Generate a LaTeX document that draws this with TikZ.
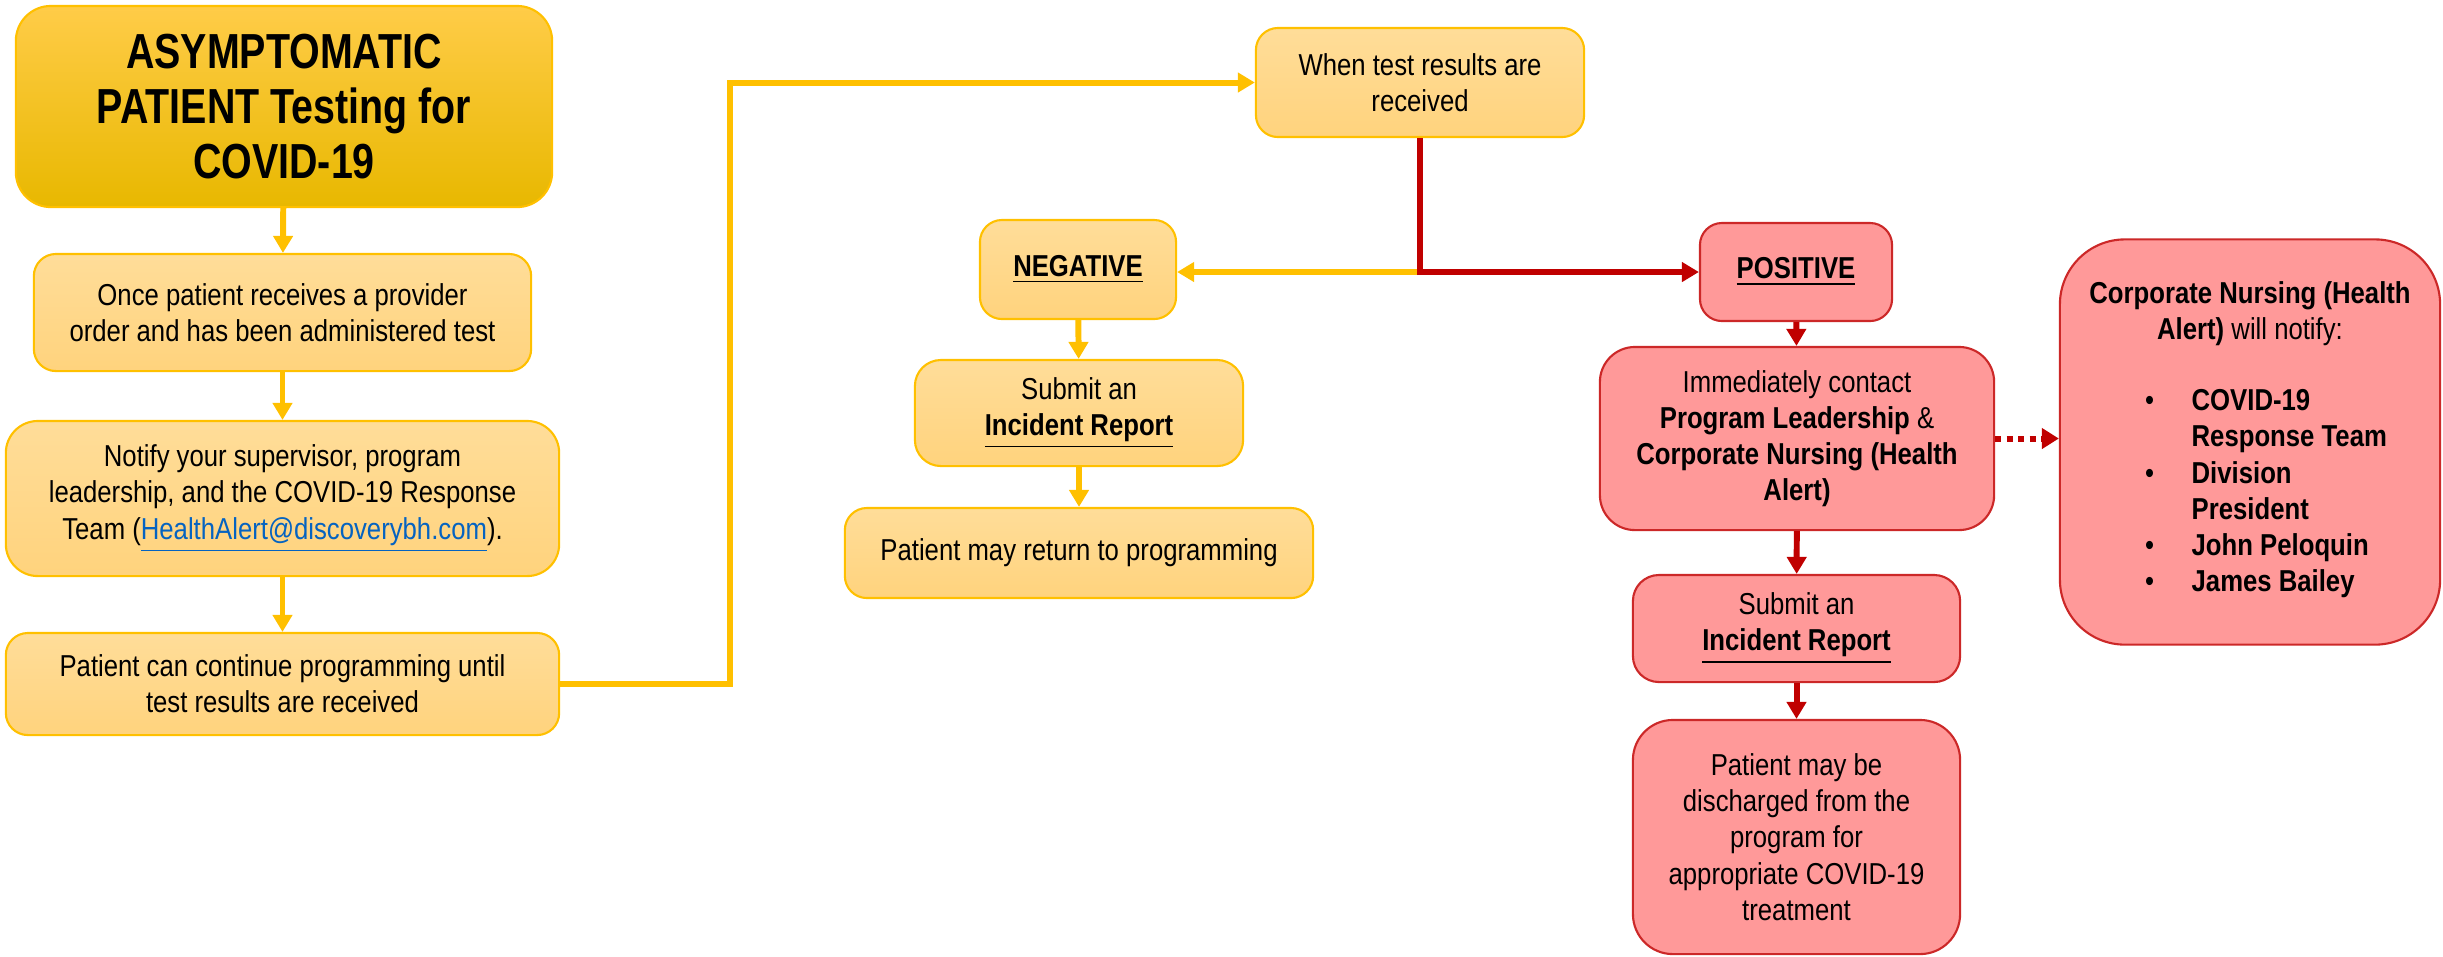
\documentclass[tikz,border=0pt]{standalone}
\usepackage{fontspec}
\setmainfont{Liberation Sans}[FakeStretch=0.85]
\newfontfamily\titlefamily{Liberation Sans}[FakeStretch=0.8]
\usetikzlibrary{positioning}
\usetikzlibrary{arrows.meta}
\definecolor{gold}{RGB}{255,192,0}
\definecolor{ytop}{RGB}{255,221,153}
\definecolor{ybot}{RGB}{255,211,125}
\definecolor{ttop}{RGB}{255,204,72}
\definecolor{tmid}{RGB}{255,192,0}
\definecolor{tbot}{RGB}{232,184,0}
\definecolor{pinkfill}{RGB}{255,153,153}
\definecolor{redline}{RGB}{204,40,40}
\definecolor{darkred}{RGB}{192,0,0}
\definecolor{linkblue}{RGB}{5,99,193}
\newcommand\bodyfont{\fontsize{8.6}{10.3}\selectfont}

\begin{document}
\begin{tikzpicture}[x=0.01cm, y=-0.01cm,
			ybox/.style={rectangle, rounded corners=0.22cm, draw=gold, line width=0.6pt, top color=ytop, bottom color=ybot, align=center, inner sep=0pt, font=\bodyfont},
			rbox/.style={rectangle, rounded corners=0.22cm, draw=redline, line width=0.6pt, fill=pinkfill, align=center, inner sep=0pt, font=\bodyfont},
			titlebox/.style={rectangle, rounded corners=0.35cm, draw=gold, line width=0.6pt, top color=ttop, middle color=tmid, bottom color=tbot, align=center, inner sep=0pt, font=\titlefamily\bfseries\fontsize{14}{15.6}\selectfont},
			yarrow/.style={-{Triangle[width=0.19cm, length=0.17cm]}, draw=gold, line width=1.7pt},
			rarrow/.style={-{Triangle[width=0.19cm, length=0.17cm]}, draw=darkred, line width=1.7pt},
			dotarrow/.style={-{Triangle[width=0.2cm, length=0.17cm]}, draw=darkred, line width=1.7pt, dash pattern=on 0.06cm off 0.055cm}
		]
			\path[use as bounding box, fill=white] (0,0) rectangle (2443,956);

			% Left column
			\node[titlebox, minimum width=5.36cm, minimum height=2.01cm] (title) at (284,106.5) {ASYMPTOMATIC\\PATIENT Testing for\\COVID-19};
			\node[ybox, minimum width=4.97cm, minimum height=1.17cm] (order) at (282.5,312.5) {Once patient receives a provider\\order and has been administered test};
			\node[ybox, rounded corners=0.32cm, minimum width=5.53cm, minimum height=1.55cm] (notify) at (282.5,498.5) {Notify your supervisor, program\\leadership, and the COVID-19 Response\\Team (\textcolor{linkblue}{\underline{HealthAlert@discoverybh.com}}).};
			\node[ybox, minimum width=5.53cm, minimum height=1.02cm] (cont) at (282.5,684) {Patient can continue programming until\\test results are received};

			% Results and negative branch
			\node[ybox, minimum width=3.28cm, minimum height=1.09cm] (results) at (1420,82.5) {When test results are\\received};
			\node[ybox, minimum width=1.96cm, minimum height=0.99cm] (neg) at (1078,269.5) {\textbf{\underline{NEGATIVE}}};
			\node[ybox, rounded corners=0.26cm, minimum width=3.28cm, minimum height=1.06cm] (negsub) at (1079,413) {Submit an\\\textbf{\underline{Incident Report}}};
			\node[ybox, minimum width=4.68cm, minimum height=0.9cm] (negret) at (1079,553) {Patient may return to programming};

			% Positive branch
			\node[rbox, minimum width=1.92cm, minimum height=0.98cm] (pos) at (1796,272) {\textbf{\underline{POSITIVE}}};
			\node[rbox, rounded corners=0.35cm, minimum width=3.94cm, minimum height=1.83cm] (contact) at (1797,438.5) {Immediately contact\\\textbf{Program Leadership} \&\\\textbf{Corporate Nursing (Health}\\\textbf{Alert)}};
			\node[rbox, rounded corners=0.26cm, minimum width=3.27cm, minimum height=1.07cm] (possub) at (1796.5,628.5) {Submit an\\\textbf{\underline{Incident Report}}};
			\node[rbox, rounded corners=0.4cm, minimum width=3.27cm, minimum height=2.34cm] (discharge) at (1796.5,837) {Patient may be\\discharged from the\\program for\\appropriate COVID-19\\treatment};
			\node[rbox, rounded corners=0.65cm, minimum width=3.8cm, minimum height=4.05cm] (alertbox) at (2250,442) {\textbf{Corporate Nursing (Health}\\\textbf{Alert)} will notify:\\[0.36cm]
				\begin{tabular}{@{\hspace{0.32cm}}c@{\hspace{0.375cm}}l@{}}
					\textbullet & \textbf{COVID-19}\\
					 & \textbf{Response Team}\\
					\textbullet & \textbf{Division}\\
					 & \textbf{President}\\
					\textbullet & \textbf{John Peloquin}\\
					\textbullet & \textbf{James Bailey}
				\end{tabular}};

			% Arrows
			\draw[yarrow] (title) -- (order);
			\draw[yarrow] (order) -- (notify);
			\draw[yarrow] (notify) -- (cont);
			\draw[yarrow] (cont.east) -- ++(170,0) |- (results.west);
			\coordinate (split) at (results.south |- pos.west);
			\draw[yarrow] (split) -- (split -| neg.east);
			\draw[rarrow] (results.south) |- (pos.west);
			\draw[yarrow] (neg) -- (negsub);
			\draw[yarrow] (negsub) -- (negret);
			\draw[rarrow] (pos) -- (contact);
			\draw[rarrow] (contact) -- (possub);
			\draw[rarrow] (possub) -- (discharge);
			\draw[dotarrow] (contact.east) -- (alertbox.west |- contact.east);
		\end{tikzpicture}
\end{document}
